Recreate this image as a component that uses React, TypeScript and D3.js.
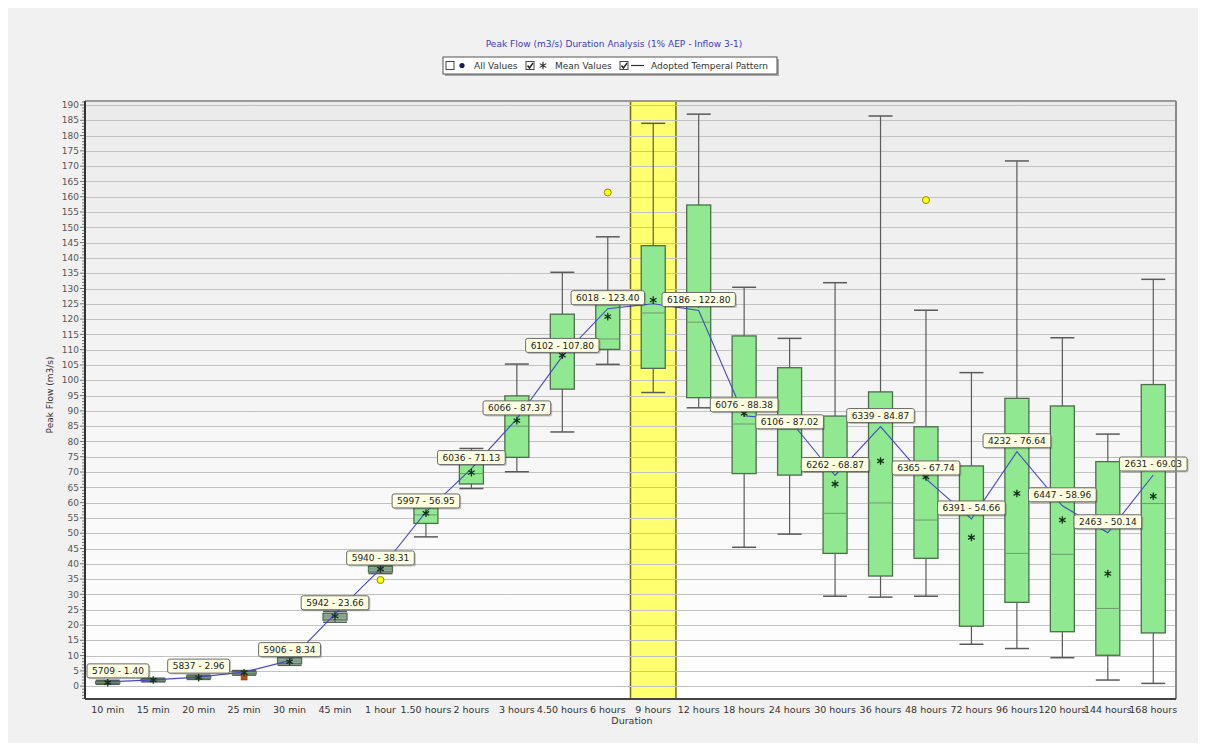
import React, { useEffect, useRef } from 'react';
import * as d3 from 'd3';

const W = 1206;
const H = 749;

const categories = ['10 min', '15 min', '20 min', '25 min', '30 min', '45 min', '1 hour', '1.50 hours', '2 hours', '3 hours', '4.50 hours', '6 hours', '9 hours', '12 hours', '18 hours', '24 hours', '30 hours', '36 hours', '48 hours', '72 hours', '96 hours', '120 hours', '144 hours', '168 hours'];
const whiskerLow = [0.6, 1.4, 2.2, 3.6, 6.8, 20.9, 36.8, 48.8, 64.6, 70.1, 83.1, 105.2, 96.0, 91.0, 45.4, 49.7, 29.4, 29.1, 29.4, 13.7, 12.3, 9.3, 2.0, 0.9];
const q1 = [0.9, 1.7, 2.6, 4.0, 7.3, 21.6, 37.3, 53.2, 66.1, 74.8, 97.1, 110.1, 103.9, 94.3, 69.5, 69.0, 43.4, 36.0, 41.8, 19.6, 27.4, 17.8, 10.1, 17.4];
const median = [1.2, 2.0, 2.9, 4.4, 8.2, 22.9, 38.3, 56.0, 69.5, 85.0, 110.0, 113.5, 122.0, 119.0, 85.7, 84.0, 56.5, 59.9, 54.3, 56.0, 43.4, 43.1, 25.4, 59.7];
const q3 = [1.5, 2.3, 3.3, 4.8, 9.3, 23.8, 39.2, 58.3, 72.6, 94.9, 121.6, 124.8, 144.0, 157.3, 114.5, 104.1, 88.3, 96.2, 84.8, 72.0, 94.1, 91.6, 73.4, 98.6];
const whiskerHigh = [1.9, 2.6, 3.6, 5.1, 9.8, 24.4, 39.6, 59.0, 77.7, 105.3, 135.3, 146.9, 184.0, 187.0, 130.4, 113.7, 131.9, 186.4, 122.9, 102.5, 171.7, 113.9, 82.4, 133.0];
const means = [1.1, 2.0, 2.8, 4.4, 8.0, 22.9, 38.3, 56.5, 69.8, 86.8, 108.2, 120.8, 126.2, 125.0, 89.2, 86.0, 66.1, 73.6, 68.4, 48.6, 63.0, 54.3, 36.8, 62.1];
const adopted = [1.40, 2.05, 2.96, 4.6, 8.34, 23.66, 38.31, 56.95, 71.13, 87.37, 107.80, 123.40, 125.0, 122.80, 88.38, 87.02, 68.87, 84.87, 67.74, 54.66, 76.64, 58.96, 50.14, 69.03];
const labelIds = ['5709', null, '5837', null, '5906', '5942', '5940', '5997', '6036', '6066', '6102', '6018', null, '6186', '6076', '6106', '6262', '6339', '6365', '6391', '4232', '6447', '2463', '2631'];
const outlierCats = ['1 hour', '6 hours', '48 hours'];
const outlierValues = [34.7, 161.4, 158.9];
const flaggedCats = ['25 min'];
const flaggedValues = [3.0];
const highlightCat = '9 hours';
const yTickValues = d3.range(0, 191, 5);

const FONT = 'DejaVu Sans, Verdana, sans-serif';

export default function App() {
  const ref = useRef<SVGSVGElement>(null);

  useEffect(() => {
    const svg = d3.select(ref.current);
    svg.selectAll('*').remove();

    const left = 85, right = 1176, top = 101, bottom = 699;
    const x = d3.scaleBand<string>().domain(categories).range([left, right]).padding(0);
    const y = d3.scaleLinear().domain([-4.2, 191.3]).range([bottom, top]);
    const cx = (c: string) => (x(c) as number) + x.bandwidth() / 2;
    const boxW = 24;

    // page background
    svg.append('rect').attr('x', 0).attr('y', 0).attr('width', W).attr('height', H).attr('fill', '#ffffff');
    svg.append('rect').attr('x', 8).attr('y', 8).attr('width', W - 16).attr('height', H - 14).attr('fill', '#f1f1f1');

    const defs = svg.append('defs');
    const grad = defs.append('linearGradient').attr('id', 'plotbg').attr('x1', 0).attr('y1', 0).attr('x2', 0).attr('y2', 1);
    grad.append('stop').attr('offset', '0%').attr('stop-color', '#ebebeb');
    grad.append('stop').attr('offset', '100%').attr('stop-color', '#ffffff');

    svg.append('rect').attr('x', left).attr('y', top).attr('width', right - left).attr('height', bottom - top).attr('fill', 'url(#plotbg)');

    // highlighted duration
    svg.append('rect')
      .attr('x', x(highlightCat) as number)
      .attr('y', top)
      .attr('width', x.bandwidth())
      .attr('height', bottom - top)
      .attr('fill', '#ffff70')
      .attr('stroke', '#6e6e10')
      .attr('stroke-width', 1.5);

    // gridlines
    svg.append('g').selectAll('line').data(yTickValues).join('line')
      .attr('x1', left).attr('x2', right)
      .attr('y1', d => Math.round(y(d)) + 0.5).attr('y2', d => Math.round(y(d)) + 0.5)
      .attr('stroke', '#c2c2c2').attr('stroke-width', 1);

    // boxes
    const gBox = svg.append('g');
    categories.forEach((c, i) => {
      const xc = cx(c);
      const small = y(q1[i]) - y(q3[i]) < 8;
      gBox.append('line').attr('x1', xc).attr('x2', xc).attr('y1', y(whiskerLow[i])).attr('y2', y(whiskerHigh[i]))
        .attr('stroke', '#5a5a5a').attr('stroke-width', 1.2);
      [whiskerLow[i], whiskerHigh[i]].forEach(v => {
        gBox.append('line').attr('x1', xc - boxW / 2).attr('x2', xc + boxW / 2).attr('y1', y(v)).attr('y2', y(v))
          .attr('stroke', '#5a5a5a').attr('stroke-width', 1.5);
      });
      gBox.append('rect')
        .attr('x', xc - boxW / 2).attr('y', y(q3[i]))
        .attr('width', boxW).attr('height', Math.max(1, y(q1[i]) - y(q3[i])))
        .attr('fill', small ? '#8fa89a' : '#90e890').attr('stroke', '#4c6e4c').attr('stroke-width', 1.3);
      gBox.append('line').attr('x1', xc - boxW / 2).attr('x2', xc + boxW / 2).attr('y1', y(median[i])).attr('y2', y(median[i]))
        .attr('stroke', '#6f9a6f').attr('stroke-width', 1);
    });

    // outliers
    svg.append('g').selectAll('circle').data(outlierCats).join('circle')
      .attr('cx', d => cx(d)).attr('cy', (d, i) => y(outlierValues[i])).attr('r', 3.5)
      .attr('fill', '#ffff00').attr('stroke', '#8a8a10').attr('stroke-width', 1);

    svg.append('g').selectAll('rect').data(flaggedCats).join('rect')
      .attr('x', d => cx(d) - 3).attr('y', (d, i) => y(flaggedValues[i]) - 3).attr('width', 6).attr('height', 6)
      .attr('fill', '#c0501a').attr('stroke', '#7a3010').attr('stroke-width', 0.6);

    // adopted temporal pattern line
    const line = d3.line<number>().x((d, i) => cx(categories[i])).y(d => y(d));
    svg.append('path').datum(adopted).attr('d', line).attr('fill', 'none').attr('stroke', '#4848c4').attr('stroke-width', 1.1);

    // means
    const star = d3.symbol().type(d3.symbolAsterisk).size(40);
    svg.append('g').selectAll('path').data(means).join('path')
      .attr('transform', (d, i) => `translate(${cx(categories[i])},${y(d)})`)
      .attr('d', star as any)
      .attr('fill', 'none').attr('stroke', '#14301a').attr('stroke-width', 1.3);

    // labels
    const gLab = svg.append('g');
    const placed: { x: number; y: number; w: number; h: number }[] = [];
    const overlaps = (a: any, b: any) => a.x < b.x + b.w && b.x < a.x + a.w && a.y < b.y + b.h && b.y < a.y + a.h;
    categories.forEach((c, i) => {
      const id = labelIds[i];
      if (!id) return;
      const txt = `${id} - ${adopted[i].toFixed(2)}`;
      const g = gLab.append('g');
      const t = g.append('text').text(txt).attr('font-family', FONT).attr('font-size', 9).attr('fill', '#222');
      const tw = (t.node() as SVGTextElement).getComputedTextLength();
      const w = tw + 10, h = 14;
      const box = { x: Math.max(left + 2, cx(c) - w / 2), y: y(adopted[i]) - 4 - h, w, h };
      let moved = true;
      let guard = 0;
      while (moved && guard < 20) {
        moved = false;
        guard++;
        for (const p of placed) {
          if (overlaps(box, p)) {
            box.y = p.y + p.h + 3;
            moved = true;
          }
        }
      }
      placed.push({ ...box });
      g.insert('rect', 'text').attr('x', box.x + 1.5).attr('y', box.y + 1.5).attr('width', w).attr('height', h).attr('rx', 2)
        .attr('fill', 'rgba(0,0,0,0.22)');
      g.insert('rect', 'text').attr('x', box.x).attr('y', box.y).attr('width', w).attr('height', h).attr('rx', 2)
        .attr('fill', '#ffffe2').attr('stroke', '#6a6a6a').attr('stroke-width', 1);
      t.attr('x', box.x + w / 2).attr('y', box.y + h / 2 + 3.2).attr('text-anchor', 'middle');
    });

    // plot border
    svg.append('line').attr('x1', left).attr('x2', right).attr('y1', top).attr('y2', top).attr('stroke', '#9a9a9a').attr('stroke-width', 2);
    svg.append('line').attr('x1', right).attr('x2', right).attr('y1', top).attr('y2', bottom).attr('stroke', '#8a8a8a').attr('stroke-width', 2);
    svg.append('line').attr('x1', left).attr('x2', right).attr('y1', bottom).attr('y2', bottom).attr('stroke', '#444').attr('stroke-width', 2);
    svg.append('line').attr('x1', left).attr('x2', left).attr('y1', top).attr('y2', bottom).attr('stroke', '#333').attr('stroke-width', 2);

    // y axis ticks
    const minor = d3.range(-4, 192, 1);
    svg.append('g').selectAll('line').data(minor).join('line')
      .attr('x1', left - 1).attr('x2', d => left - (d % 5 === 0 ? 5 : 3))
      .attr('y1', d => y(d)).attr('y2', d => y(d)).attr('stroke', '#555').attr('stroke-width', 0.8);
    svg.append('g').selectAll('text').data(yTickValues).join('text')
      .attr('x', 79).attr('y', d => y(d) + 3.2).attr('text-anchor', 'end')
      .attr('font-family', FONT).attr('font-size', 9).attr('fill', '#555').text(d => String(d));

    // x labels
    svg.append('g').selectAll('text').data(categories).join('text')
      .attr('x', d => cx(d)).attr('y', 713).attr('text-anchor', 'middle')
      .attr('font-family', FONT).attr('font-size', 9.5).attr('fill', '#333').text(d => d);

    // axis titles
    svg.append('text').attr('x', 632).attr('y', 724).attr('text-anchor', 'middle')
      .attr('font-family', FONT).attr('font-size', 9.5).attr('fill', '#333').text('Duration');
    svg.append('text').attr('transform', 'translate(53,395) rotate(-90)').attr('text-anchor', 'middle')
      .attr('font-family', FONT).attr('font-size', 9).attr('fill', '#333').text('Peak Flow (m3/s)');

    // title
    svg.append('text').attr('x', 614).attr('y', 47).attr('text-anchor', 'middle')
      .attr('font-family', FONT).attr('font-size', 9).attr('fill', '#3c3cc8')
      .text('Peak Flow (m3/s) Duration Analysis (1% AEP - Inflow 3-1)');

    // legend
    const lg = svg.append('g');
    const lx = 443, ly = 57, lw = 334, lh = 17;
    lg.append('rect').attr('x', lx + 2).attr('y', ly + 2).attr('width', lw).attr('height', lh).attr('fill', '#6a6a6a').attr('opacity', 0.55);
    lg.append('rect').attr('x', lx).attr('y', ly).attr('width', lw).attr('height', lh).attr('fill', '#ffffff').attr('stroke', '#555').attr('stroke-width', 1);
    const cy = ly + lh / 2;
    const checkbox = (bx: number, checked: boolean) => {
      lg.append('rect').attr('x', bx).attr('y', cy - 4).attr('width', 8).attr('height', 8).attr('fill', '#fff').attr('stroke', '#444').attr('stroke-width', 1);
      if (checked) {
        lg.append('path').attr('d', `M${bx + 1.5},${cy} L${bx + 3.5},${cy + 2.5} L${bx + 7},${cy - 2.5}`).attr('fill', 'none').attr('stroke', '#222').attr('stroke-width', 1.4);
      }
    };
    checkbox(446, false);
    lg.append('circle').attr('cx', 462).attr('cy', cy).attr('r', 2.6).attr('fill', '#1a1a60');
    lg.append('text').attr('x', 474).attr('y', cy + 3.3).attr('font-family', FONT).attr('font-size', 9).attr('fill', '#333').text('All Values');
    checkbox(526, true);
    lg.append('path').attr('transform', `translate(543,${cy})`).attr('d', d3.symbol().type(d3.symbolAsterisk).size(40)() as string)
      .attr('fill', 'none').attr('stroke', '#222').attr('stroke-width', 1.1);
    lg.append('text').attr('x', 555).attr('y', cy + 3.3).attr('font-family', FONT).attr('font-size', 9).attr('fill', '#333').text('Mean Values');
    checkbox(620, true);
    lg.append('line').attr('x1', 631).attr('x2', 644).attr('y1', cy).attr('y2', cy).attr('stroke', '#333').attr('stroke-width', 1.2);
    lg.append('text').attr('x', 651).attr('y', cy + 3.3).attr('font-family', FONT).attr('font-size', 9).attr('fill', '#333').text('Adopted Temperal Pattern');
  }, []);

  return <svg ref={ref} width={W} height={H} style={{ position: 'absolute', left: 0, top: 0 }} />;
}
